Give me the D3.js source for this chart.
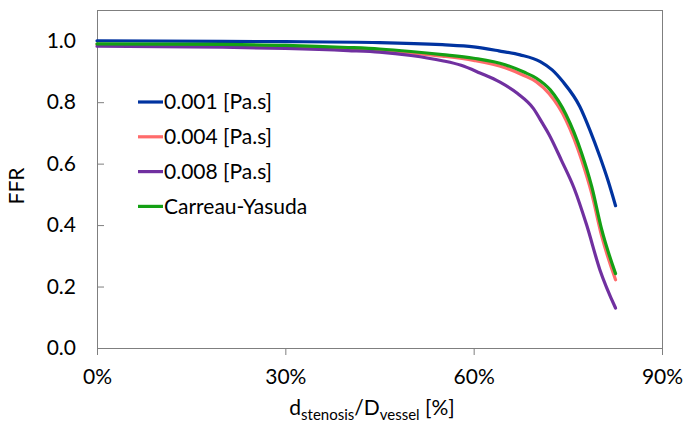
<!DOCTYPE html>
<html>
<head>
<meta charset="utf-8">
<script src="https://cdn.jsdelivr.net/npm/d3@7"></script>
<style>
  body { margin: 0; background: #fff; }
  text { font-family: Lato, "Open Sans", sans-serif; fill: #000; }
</style>
</head>
<body>
<svg id="chart" width="683" height="429"></svg>
<script>
// stenosis ratio (%) for each series, and FFR values
var xBlue   = [0, 20, 30, 45, 55, 60, 64, 67.4, 70.6, 72.5, 74.2, 76.9, 78.5, 80.1, 81.4, 82.6];
var ffrBlue = [1.0, 0.998, 0.997, 0.994, 0.987, 0.98, 0.967, 0.954, 0.932, 0.905, 0.867, 0.786, 0.71, 0.623, 0.545, 0.463];

var xRed    = [0, 20, 30, 40, 50, 55, 60, 65, 68, 70, 72, 74.7, 77.2, 78.8, 80.4, 82.6];
var ffrRed  = [0.988, 0.985, 0.982, 0.975, 0.96, 0.95, 0.936, 0.912, 0.887, 0.866, 0.828, 0.742, 0.612, 0.503, 0.364, 0.222];

var xPurple   = [0, 20, 30, 40, 45, 50, 55, 58, 61, 64.2, 67, 69.5, 71, 72, 74, 76, 78, 80.1, 82.6];
var ffrPurple = [0.982, 0.979, 0.975, 0.968, 0.963, 0.952, 0.935, 0.92, 0.895, 0.865, 0.828, 0.78, 0.73, 0.695, 0.61, 0.52, 0.4, 0.255, 0.13];

var xGreen   = [0, 20, 30, 40, 45, 50, 55, 60, 65, 68, 70, 72.2, 74.7, 77.2, 78.8, 80.4, 82.6];
var ffrGreen = [0.99, 0.988, 0.985, 0.978, 0.973, 0.965, 0.955, 0.943, 0.922, 0.898, 0.878, 0.84, 0.76, 0.634, 0.526, 0.385, 0.242];

var seriesNames = ["0.001 [Pa.s]", "0.004 [Pa.s]", "0.008 [Pa.s]", "Carreau-Yasuda"];
var seriesColors = ["#0033a0", "#ff6b6b", "#7030a0", "#14a014"];
var xTicks = [0, 30, 60, 90];
var yTicks = [0, 0.2, 0.4, 0.6, 0.8, 1.0];

var series = [
  { name: seriesNames[0], color: seriesColors[0], xs: xBlue, ys: ffrBlue },
  { name: seriesNames[1], color: seriesColors[1], xs: xRed, ys: ffrRed },
  { name: seriesNames[2], color: seriesColors[2], xs: xPurple, ys: ffrPurple },
  { name: seriesNames[3], color: seriesColors[3], xs: xGreen, ys: ffrGreen }
];

var svg = d3.select('#chart');
var margin = { top: 10, right: 21, bottom: 81, left: 97 };
var width = 683 - margin.left - margin.right;
var height = 429 - margin.top - margin.bottom;

var g = svg.append('g').attr('transform', 'translate(' + margin.left + ',' + margin.top + ')');

var x = d3.scaleLinear().domain([0, 90]).range([0, width]);
var y = d3.scaleLinear().domain([0, 1.1]).range([height, 0]);

var axisColor = '#7f7f7f';

// frame
g.append('rect')
  .attr('x', 0).attr('y', 0)
  .attr('width', width).attr('height', height)
  .attr('fill', 'none')
  .attr('stroke', axisColor)
  .attr('stroke-width', 1)
  .attr('shape-rendering', 'crispEdges');

// y axis: ticks point inward
var yAxis = g.append('g')
  .call(d3.axisLeft(y).tickValues(yTicks).tickSize(-7).tickPadding(21).tickFormat(d3.format('.1f')));
yAxis.select('.domain').attr('stroke', axisColor);
yAxis.selectAll('.tick line').attr('stroke', axisColor);
yAxis.selectAll('.tick text').attr('font-size', 21).attr('fill', '#000')
  .style('font-family', 'Lato, sans-serif');

// x axis: ticks point down
var xAxis = g.append('g')
  .attr('transform', 'translate(0,' + height + ')')
  .call(d3.axisBottom(x).tickValues(xTicks).tickSize(7).tickPadding(14).tickFormat(d => d + '%'));
xAxis.select('.domain').attr('stroke', axisColor);
xAxis.selectAll('.tick line').attr('stroke', axisColor);
xAxis.selectAll('.tick text').attr('font-size', 21).attr('fill', '#000')
  .style('font-family', 'Lato, sans-serif');

// curves
var line = d3.line()
  .x(d => x(d[0]))
  .y(d => y(d[1]))
  .curve(d3.curveMonotoneX);

g.selectAll('.curve')
  .data(series)
  .enter()
  .append('path')
    .classed('curve', true)
    .attr('d', s => line(s.xs.map((v, i) => [v, s.ys[i]])))
    .attr('fill', 'none')
    .attr('stroke', s => s.color)
    .attr('stroke-width', 3.2)
    .attr('stroke-linejoin', 'round')
    .attr('stroke-linecap', 'round');

// legend
var legend = svg.append('g').attr('transform', 'translate(138,102)');
var rows = legend.selectAll('.row')
  .data(series)
  .enter()
  .append('g')
    .attr('transform', (d, i) => 'translate(0,' + (i * 34.8) + ')');
rows.append('line')
  .attr('x1', 0).attr('x2', 25)
  .attr('y1', 0).attr('y2', 0)
  .attr('stroke', d => d.color)
  .attr('stroke-width', 3.2);
rows.append('text')
  .attr('x', 26)
  .attr('y', 0)
  .attr('dy', '0.35em')
  .attr('font-size', 21)
  .text(d => d.name);

// axis titles
svg.append('text')
  .attr('transform', 'translate(24,186) rotate(-90)')
  .attr('text-anchor', 'middle')
  .attr('font-size', 21)
  .text('FFR');

var xt = svg.append('text')
  .attr('x', 372)
  .attr('y', 415)
  .attr('text-anchor', 'middle')
  .attr('font-size', 21);
xt.append('tspan').text('d');
xt.append('tspan').attr('font-size', 15).attr('dy', 5).text('stenosis');
xt.append('tspan').attr('dy', -5).text('/D');
xt.append('tspan').attr('font-size', 15).attr('dy', 5).text('vessel');
xt.append('tspan').attr('dy', -5).text(' [%]');
</script>
</body>
</html>
